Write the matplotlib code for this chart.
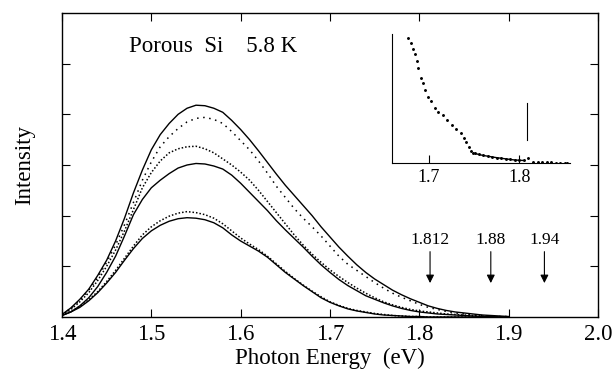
import numpy as np
import matplotlib
matplotlib.use("Agg")
import matplotlib.pyplot as plt

plt.rcParams['font.family'] = ['Liberation Serif', 'DejaVu Serif']

# photon energy grid of the main spectra (eV)
energy = np.linspace(1.40, 1.90, 51)

# solid spectra (top, middle, bottom)
sol_top = [0.05, 0.18, 0.35, 0.55, 0.82, 1.12, 1.50, 1.95, 2.45, 2.90,
           3.30, 3.60, 3.82, 4.00, 4.12, 4.18, 4.17, 4.12, 4.04, 3.88,
           3.70, 3.50, 3.28, 3.05, 2.82, 2.60, 2.40, 2.20, 2.00, 1.78,
           1.58, 1.38, 1.20, 1.03, 0.88, 0.75, 0.64, 0.53, 0.44, 0.36,
           0.29, 0.22, 0.17, 0.13, 0.10, 0.08, 0.06, 0.04, 0.03, 0.02, 0.01]
sol_mid = [0.03, 0.10, 0.22, 0.38, 0.60, 0.88, 1.20, 1.60, 2.02, 2.32,
           2.55, 2.70, 2.83, 2.94, 3.00, 3.03, 3.02, 2.98, 2.92, 2.80,
           2.64, 2.46, 2.28, 2.10, 1.90, 1.72, 1.55, 1.38, 1.20, 1.03,
           0.88, 0.74, 0.62, 0.52, 0.42, 0.35, 0.28, 0.22, 0.17, 0.13,
           0.10, 0.08, 0.06, 0.05, 0.04, 0.03, 0.02, 0.01, 0.01, 0.0, 0.0]
sol_low = [0.03, 0.10, 0.19, 0.32, 0.48, 0.67, 0.88, 1.12, 1.35, 1.55,
           1.70, 1.81, 1.89, 1.94, 1.96, 1.95, 1.92, 1.86, 1.76, 1.62,
           1.50, 1.40, 1.30, 1.18, 1.03, 0.88, 0.75, 0.62, 0.50, 0.38,
           0.29, 0.22, 0.16, 0.12, 0.09, 0.06, 0.04, 0.03, 0.02, 0.01,
           0.01, 0.0, 0.0, 0.0, 0.0, 0.0, 0.0, 0.0, 0.0, 0.0, 0.0]

# dotted spectra (upper, dense middle, lower)
dot_top = [0.05, 0.17, 0.33, 0.53, 0.78, 1.08, 1.42, 1.82, 2.26, 2.70,
           3.06, 3.36, 3.56, 3.72, 3.85, 3.92, 3.94, 3.90, 3.82, 3.66,
           3.48, 3.30, 3.08, 2.84, 2.58, 2.36, 2.14, 1.95, 1.78, 1.60,
           1.40, 1.20, 1.04, 0.92, 0.80, 0.68, 0.57, 0.47, 0.39, 0.32,
           0.25, 0.19, 0.15, 0.11, 0.08, 0.06, 0.04, 0.03, 0.02, 0.01, 0.01]
dot_mid = [0.05, 0.15, 0.30, 0.48, 0.72, 1.00, 1.32, 1.70, 2.12, 2.55,
           2.85, 3.08, 3.24, 3.32, 3.36, 3.37, 3.32, 3.24, 3.12, 3.00,
           2.86, 2.70, 2.50, 2.28, 2.06, 1.84, 1.62, 1.42, 1.24, 1.08,
           0.93, 0.80, 0.68, 0.57, 0.47, 0.38, 0.30, 0.24, 0.19, 0.15,
           0.12, 0.10, 0.08, 0.06, 0.05, 0.04, 0.03, 0.02, 0.01, 0.0, 0.0]
dot_low = [0.04, 0.11, 0.21, 0.34, 0.50, 0.70, 0.92, 1.16, 1.40, 1.62,
           1.78, 1.90, 1.99, 2.05, 2.08, 2.06, 2.02, 1.95, 1.84, 1.70,
           1.56, 1.44, 1.33, 1.20, 1.05, 0.90, 0.76, 0.63, 0.51, 0.40,
           0.30, 0.23, 0.17, 0.13, 0.10, 0.07, 0.05, 0.03, 0.02, 0.01,
           0.01, 0.0, 0.0, 0.0, 0.0, 0.0, 0.0, 0.0, 0.0, 0.0, 0.0]

# marked energies
arrow_e = [1.812, 1.88, 1.94]
arrow_lbl = ['1.812', '1.88', '1.94']

# inset: blow-up of the high energy tail
ins_e = [1.677, 1.680, 1.682, 1.684, 1.687, 1.688, 1.691, 1.693, 1.696, 1.699,
         1.702, 1.707, 1.710, 1.715, 1.720, 1.725, 1.730, 1.735, 1.739, 1.741,
         1.744, 1.746, 1.749, 1.751, 1.755, 1.760, 1.765, 1.770, 1.775, 1.780,
         1.785, 1.790, 1.795, 1.800, 1.805, 1.810, 1.815, 1.820, 1.825, 1.830,
         1.835, 1.840, 1.845, 1.850, 1.853]
ins_i = [12.5, 12.0, 11.4, 10.9, 10.2, 9.5, 8.5, 8.0, 7.3, 6.6,
         6.2, 5.5, 5.1, 4.8, 4.3, 3.8, 3.4, 3.0, 2.5, 2.1,
         1.6, 1.2, 1.0, 0.95, 0.85, 0.75, 0.68, 0.60, 0.53, 0.47,
         0.41, 0.35, 0.30, 0.27, 0.25, 0.45, 0.12, 0.06, 0.05, 0.05,
         0.05, 0.04, 0.04, 0.04, 0.04]

fig = plt.figure(figsize=(6.16, 3.69), dpi=100)
ax = fig.add_axes([0.1006, 0.1409, 0.8702, 0.8239])

ax.plot(energy, sol_top, color='k', lw=1.0)
ax.plot(energy, sol_mid, color='k', lw=1.0)
ax.plot(energy, sol_low, color='k', lw=1.0)
ax.plot(energy, dot_top, color='k', lw=1.1, ls=(0, (1, 3)))
ax.plot(energy, dot_mid, color='k', lw=1.1, ls=(0, (1, 1.3)))
ax.plot(energy, dot_low, color='k', lw=1.1, ls=(0, (1, 1.3)))

for e, lbl in zip(arrow_e, arrow_lbl):
    ax.annotate('', xy=(e, 0.67), xytext=(e, 1.29),
                arrowprops=dict(arrowstyle='-|>', color='k', lw=0.8,
                                mutation_scale=12, shrinkA=0, shrinkB=0))
    ax.text(e, 1.52, lbl, ha='center', va='center', fontsize=12.5)

ax.text(1.569, 5.33, 'Porous  Si    5.8 K', ha='center', va='center', fontsize=16.5)

ax.set_xlim(1.4, 2.0)
ax.set_ylim(0, 6)
ax.set_xticks([1.4, 1.5, 1.6, 1.7, 1.8, 1.9, 2.0])
ax.set_xticklabels(['1.4', '1.5', '1.6', '1.7', '1.8', '1.9', '2.0'])
ax.set_yticks([1, 2, 3, 4, 5])
ax.set_yticklabels([])
ax.tick_params(direction='in', length=6, width=0.8, top=True, right=True,
               labelsize=16.5, pad=5)
ax.set_xlabel('Photon Energy  (eV)', fontsize=16.5, labelpad=2)
ax.set_ylabel('Intensity', fontsize=16.5, labelpad=14)
for s in ax.spines.values():
    s.set_linewidth(1.0)

# inset
axi = fig.add_axes([0.6364, 0.5583, 0.289, 0.3496])
axi.plot(ins_e, ins_i, 'k.', ms=2.2)
axi.plot(ins_e[23:35], ins_i[23:35], color='k', lw=1.0)
axi.plot([arrow_e[0] - 0.004, arrow_e[0] - 0.004], [2.3, 6.0], color='k', lw=0.8)
axi.set_xlim(1.659, 1.856)
axi.set_ylim(0, 12.9)
axi.set_xticks([1.7, 1.8])
axi.set_xticklabels(['1.7', '1.8'])
axi.set_yticks([])
axi.tick_params(direction='in', length=6, width=0.8, labelsize=13, pad=4)
axi.spines['top'].set_visible(False)
axi.spines['right'].set_visible(False)
axi.patch.set_alpha(0)

fig.savefig('out.png', dpi=100)
